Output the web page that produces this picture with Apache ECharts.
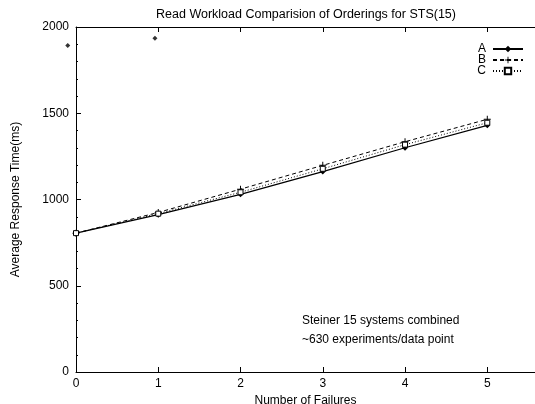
<!DOCTYPE html>
<html><head><meta charset="utf-8">
<script src="https://cdn.jsdelivr.net/npm/echarts@6/dist/echarts.min.js"></script>
<style>html,body{margin:0;padding:0;background:#fff}#c{width:535px;height:404px}</style>
</head><body><div id="c"></div>
<script>
var failures = [0, 1, 2, 3, 4, 5];
var seriesA = [805, 912, 1030, 1162, 1300, 1430];
var seriesB = [805, 925, 1060, 1198, 1335, 1465];
var seriesC = [805, 918, 1042, 1178, 1318, 1445];
var strayPoints = [[0.96, 1935], [-0.1, 1893]];
var yTicks = [0, 500, 1000, 1500, 2000];

function pairs(v){ return failures.map(function(x,i){ return [x, v[i]]; }); }
var plus = 'path://M4.3,0H5.7V4.3H10V5.7H5.7V10H4.3V5.7H0V4.3H4.3Z';
var font = 'Liberation Sans, Arial, sans-serif';
var chart = echarts.init(document.getElementById('c'));
chart.setOption({
  animation: false,
  backgroundColor: '#fff',
  title: { text: 'Read Workload Comparision of Orderings for STS(15)', left: 301, textAlign: 'center', top: 3,
    textStyle: { fontFamily: font, fontSize: 12.5, fontWeight: 'normal', color: '#000' } },
  grid: { left: 76, top: 27, bottom: 32, right: 0, containLabel: false, outerBoundsMode: 'none' },
  legend: { orient: 'vertical', right: 6, top: 38, align: 'right', itemGap: -1, itemWidth: 30, itemHeight: 8,
    textStyle: { fontFamily: font, fontSize: 12, color: '#000', padding: [0, 2, 0, 0] },
    data: ['A', 'B', 'C'] },
  xAxis: [{
    type: 'value', min: 0, max: 5.58, interval: 1, position: 'bottom',
    name: 'Number of Failures', nameLocation: 'middle', nameGap: 18,
    nameTextStyle: { fontFamily: font, fontSize: 12, color: '#000' },
    axisLine: { lineStyle: { color: '#000', width: 1 } },
    axisTick: { inside: true, length: 5, lineStyle: { color: '#000' } },
    axisLabel: { fontFamily: font, fontSize: 12, color: '#000', margin: 6, showMaxLabel: false },
    splitLine: { show: false }
  }, {
    type: 'value', min: 0, max: 5.58, interval: 1, position: 'top',
    axisLine: { show: true, lineStyle: { color: '#000', width: 1 } },
    axisTick: { inside: true, length: 5, lineStyle: { color: '#000' } },
    axisLabel: { show: false }, splitLine: { show: false }
  }],
  yAxis: {
    type: 'value', min: yTicks[0], max: yTicks[yTicks.length-1], interval: 500,
    name: 'Average Response Time(ms)', nameLocation: 'middle', nameGap: 54,
    nameTextStyle: { fontFamily: font, fontSize: 12, color: '#000' },
    axisLine: { show: true, lineStyle: { color: '#000', width: 1 } },
    axisTick: { inside: true, length: 5, lineStyle: { color: '#000' } },
    minorTick: { show: true, splitNumber: 5, length: 2, lineStyle: { color: '#000' } },
    axisLabel: { fontFamily: font, fontSize: 12, color: '#000', margin: 7, formatter: function(v){ return String(v); } },
    splitLine: { show: false }
  },
  graphic: [
    { type: 'text', left: 302, top: 315, style: { text: 'Steiner 15 systems combined', font: '12px ' + font, fill: '#000' } },
    { type: 'text', left: 302, top: 334, style: { text: '~630 experiments/data point', font: '12px ' + font, fill: '#000' } }
  ],
  series: [
    { name: 'A', type: 'line', data: pairs(seriesA), symbol: 'diamond', symbolSize: 6,
      lineStyle: { color: '#000', width: 1.2 }, itemStyle: { color: '#000' } },
    { name: 'B', type: 'line', data: pairs(seriesB), symbol: plus, symbolSize: 7,
      lineStyle: { color: '#000', width: 1, type: [4, 3] }, itemStyle: { color: '#000' } },
    { name: 'C', type: 'line', data: pairs(seriesC), symbol: 'rect', symbolSize: 5,
      lineStyle: { color: '#000', width: 1, type: [1, 2] }, itemStyle: { color: '#fff', borderColor: '#000', borderWidth: 1 } },
    { name: 'stray', type: 'scatter', data: strayPoints, symbol: 'diamond', symbolSize: 5, clip: false,
      itemStyle: { color: '#000' } }
  ]
});
</script></body></html>
